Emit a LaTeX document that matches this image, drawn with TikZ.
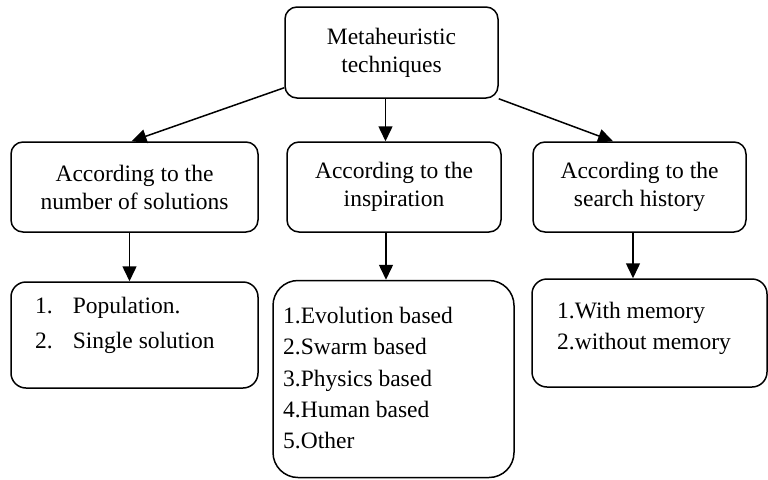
\documentclass[tikz,border=0pt]{standalone}
\usepackage{fontspec}
\setmainfont{Liberation Serif}
\usetikzlibrary{arrows.meta}
\tikzset{
  box/.style={draw, line width=1.5pt, rounded corners=12pt, inner sep=0pt, align=center},
  listtext/.style={anchor=north west, inner sep=0pt, align=left},
  arr/.style={-{Triangle[length=15pt,width=14pt]}, line width=1.5pt}
}
\begin{document}
\begin{tikzpicture}[x=1pt,y=-1pt,font=\fontsize{23.5}{28}\selectfont]
  \useasboundingbox (0,0) rectangle (768,479);
  % top
  \node[box, minimum width=213pt, minimum height=91pt] (meta) at (391.5,52.5) {Metaheuristic\\techniques};
  % criteria
  \node[box, minimum width=247pt, minimum height=90pt] (num) at (134.5,187) {According to the\\number of solutions};
  \node[box, minimum width=214pt, minimum height=90pt] (insp) at (394,187) {According to the\\inspiration};
  \node[box, minimum width=213pt, minimum height=90pt] (hist) at (639.5,187) {According to the\\search history};
  % classes
  \node[box, rounded corners=15pt, minimum width=247pt, minimum height=106pt] (pop) at (134.5,335) {};
  \node[box, rounded corners=25pt, minimum width=241pt, minimum height=197pt] (kind) at (393.5,379) {};
  \node[box, rounded corners=15pt, minimum width=235pt, minimum height=108pt] (mem) at (649.5,333) {};
  \node[listtext, font=\fontsize{23.5}{35}\selectfont] (popTxt) at (35,297)
    {1.\hspace{20pt}Population.\\2.\hspace{20pt}Single solution};
  \node[listtext, font=\fontsize{23.5}{31.3}\selectfont] (kindTxt) at (283,307)
    {1.Evolution based\\2.Swarm based\\3.Physics based\\4.Human based\\5.Other};
  \node[listtext, font=\fontsize{23.5}{31}\selectfont] (memTxt) at (557,302)
    {1.With memory\\2.without memory};
  % arrows
  \draw[arr] ([yshift=11pt]meta.south west) -- ([xshift=-3pt]num.north);
  \draw[arr] ([xshift=-6pt]meta.south) -- ([xshift=-6pt]meta.south |- insp.north);
  \draw[arr] (meta.south east) -- ([xshift=-26.5pt]hist.north);
  \draw[arr] ([xshift=-5pt]num.south) -- ([xshift=-5pt]num.south |- pop.north);
  \draw[arr] ([xshift=-8pt]insp.south) -- ([xshift=-8pt]insp.south |- kind.north);
  \draw[arr] ([xshift=-6.5pt]hist.south) -- ([xshift=-6.5pt]hist.south |- mem.north);
\end{tikzpicture}
\end{document}
